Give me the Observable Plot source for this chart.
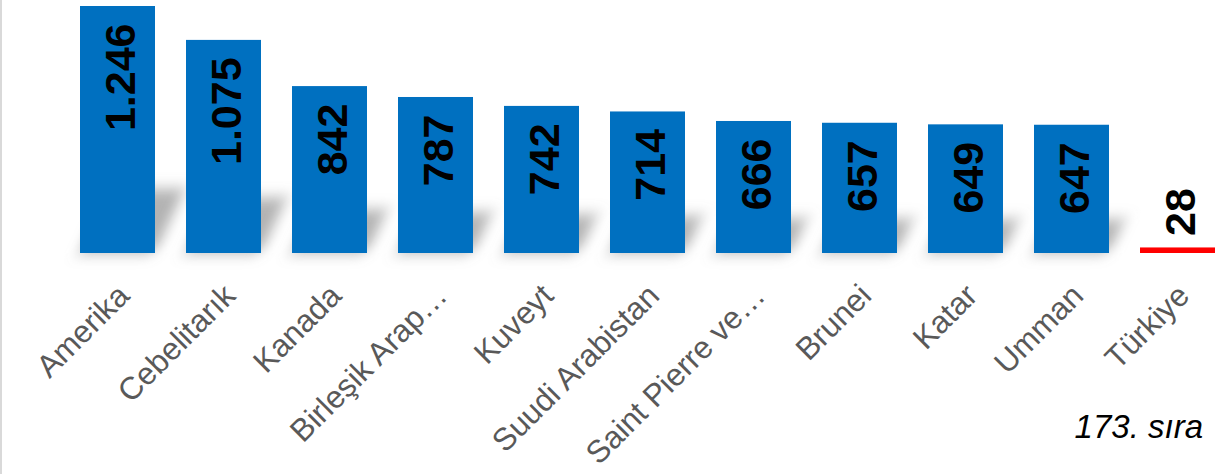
<!DOCTYPE html>
<html>
<head>
<meta charset="utf-8">
<script src="https://cdn.jsdelivr.net/npm/d3@7"></script>
<script src="https://cdn.jsdelivr.net/npm/@observablehq/plot@0.6"></script>
<style>
  html, body { margin: 0; padding: 0; background: #fff; }
  #wrap { position: relative; width: 1228px; height: 474px; }
  #edge { position: absolute; left: 0; top: 0; width: 2px; height: 474px; background: #d9d9d9; }
  svg { display: block; }
</style>
</head>
<body>
<div id="wrap"><div id="chart"></div><div id="edge"></div></div>
<script>
const countries = ["Amerika", "Cebelitarık", "Kanada", "Birleşik Arap…", "Kuveyt", "Suudi Arabistan", "Saint Pierre ve…", "Brunei", "Katar", "Umman", "Türkiye"];
const values = [1246, 1075, 842, 787, 742, 714, 666, 657, 649, 647, 28];
const valueLabels = ["1.246", "1.075", "842", "787", "742", "714", "666", "657", "649", "647", "28"];
const highlight = "Türkiye";
const rankNote = "173. sıra";

const data = countries.map((c, i) => ({country: c, value: values[i], label: valueLabels[i], hi: c === highlight}));
const main = data.filter(d => !d.hi);
const hi = data.filter(d => d.hi);

const plot = Plot.plot({
  width: 1228,
  height: 474,
  marginLeft: 78,
  marginRight: 12,
  marginTop: 6,
  marginBottom: 221,
  style: {fontFamily: "'Liberation Sans', Arial, sans-serif", background: "#fff"},
  x: {domain: countries, paddingInner: 0.294, paddingOuter: 0, axis: null},
  y: {domain: [0, 1246], axis: null},
  marks: [
    // shadow
    Plot.barY(main, {x: "country", y: d => d.value * 0.26, fill: "#808080", fillOpacity: 0.6, dx: 12}),
    Plot.barY(main, {x: "country", y: "value", fill: "#0070C0"}),
    Plot.barY(hi, {x: "country", y: "value", fill: "#FF0000"}),
    Plot.text(main, {x: "country", y: "value", text: "label", rotate: -90, textAnchor: "end", lineAnchor: "middle", dy: 17, dx: 3, fontSize: 43, fontWeight: "bold", fill: "#000"}),
    Plot.text(hi, {x: "country", y: "value", text: "label", rotate: -90, textAnchor: "start", lineAnchor: "middle", dy: -12, dx: 3, fontSize: 43, fontWeight: "bold", fill: "#000"}),
    Plot.axisX({tickSize: 0, tickPadding: 37, tickRotate: -45, dx: 6, fontSize: 31.5, fill: "#595959", label: null}),
    Plot.text(hi, {x: "country", y: () => 0, text: () => rankNote, textAnchor: "end", lineAnchor: "bottom", dy: 184, dx: 25, fontSize: 33, fontStyle: "italic", fill: "#000"})
  ]
});

document.getElementById("chart").appendChild(plot);

// soft shadow treatment
const svg = d3.select(plot);
const defs = svg.insert("defs", ":first-child");
const f = defs.append("filter").attr("id", "shblur").attr("x", "-50%").attr("y", "-50%").attr("width", "200%").attr("height", "200%");
f.append("feGaussianBlur").attr("stdDeviation", 7);
const base = plot.querySelectorAll('g[aria-label="bar"]')[0];
const yBase = 474 - 221;
base.setAttribute("transform", `translate(0,${yBase}) skewX(-25) translate(0,${-yBase})`);
base.setAttribute("filter", "url(#shblur)");
</script>
</body>
</html>
